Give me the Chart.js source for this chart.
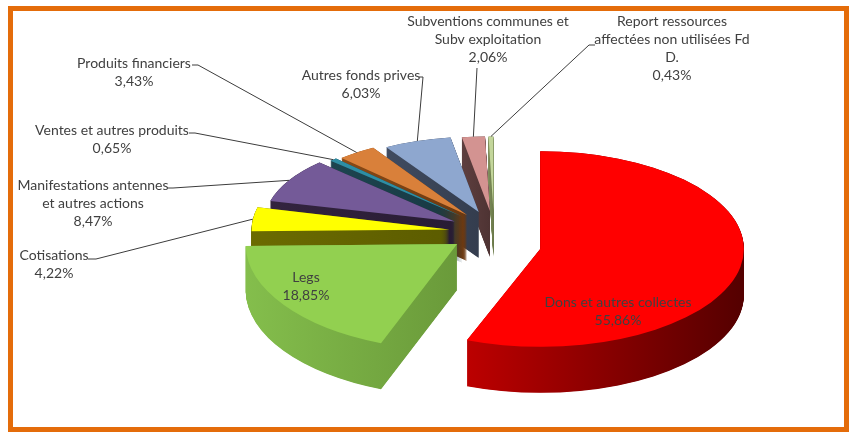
<!DOCTYPE html>
<html>
<head>
<meta charset="utf-8">
<script src="https://cdn.jsdelivr.net/npm/chart.js@4.4.0/dist/chart.umd.min.js"></script>
<style>
  html, body { margin: 0; padding: 0; background: #fff; }
</style>
</head>
<body>
<canvas id="myChart" width="855" height="436"></canvas>
<script>
// data
const categories = [
  'Dons et autres collectes', 'Legs', 'Cotisations',
  'Manifestations antennes et autres actions', 'Ventes et autres produits',
  'Produits financiers', 'Autres fonds prives',
  'Subventions communes et Subv exploitation',
  'Report ressources affectées non utilisées Fd D.'
];
const shares = [55.86, 18.85, 4.22, 8.47, 0.65, 3.43, 6.03, 2.06, 0.43];

// label text as it is wrapped on the picture
const labelLines = [
  ['Dons et autres collectes'],
  ['Legs'],
  ['Cotisations'],
  ['Manifestations antennes', 'et autres actions'],
  ['Ventes et autres produits'],
  ['Produits financiers'],
  ['Autres fonds prives'],
  ['Subventions communes et', 'Subv exploitation'],
  ['Report ressources', 'affectées non utilisées Fd', 'D.']
];

// styles
const topColors  = ['#ff0000', '#92d050', '#ffff00', '#745a98', '#2e8ea4', '#d9803a', '#8ea7cf', '#d39391', '#c3d69b'];
const sideLight  = ['#bc0000', '#84be4c', '#6b6b00', '#33243f', '#1d4550', '#8a4a16', '#404b60', '#5e3f3f', '#7d8c5a'];
const sideDark   = ['#540000', '#6a9a3a', '#5c5c00', '#281c34', '#173842', '#6a3810', '#343d4e', '#4e3333', '#6b7a4a'];
const explode    = [47, 45, 45, 45, 45, 45, 45, 45, 45];
const lift       = [13, 0, 0, 0, 0, 0, 0, 0, 0];

// 3d look
const pieY = 232;      // screen y of the pie centre
const tilt = 0.47;     // vertical squash of the disc
const depth = 46;      // thickness in px
const persp = 0.1;     // back slices a bit smaller
const perspV = 0.12;   // and flatter

// label layout: centre of first line, and leader start [x, y, tick]
const labelAt = [[618, 302], [306, 277], [54, 255], [93, 185], [112, 130], [134, 63], [361, 75], [488, 21], [672, 21]];
const leaderFrom = [null, null, [88, 259, 8], [168, 188, 5], [189, 133, 6], [192, 65, 6], [419, 77, 4], [477, 68, 0], [595, 45, -6]];
const lineH = 18;

const pct = v => v.toFixed(2).replace('.', ',') + '%';

const pie3d = {
  id: 'pie3d',
  beforeDatasetsDraw(chart) {
    const {ctx} = chart;
    const arcs = chart.getDatasetMeta(0).data;
    const cy = arcs[0].y;
    const toScreenY = y => pieY + (y - cy) * tilt;

    const parts = arcs.map((a, i) => {
      const mid = (a.startAngle + a.endAngle) / 2;
      return {
        a, i, mid,
        s: 1 + persp * Math.sin(mid),
        v: 1 + perspV * Math.sin(mid),
        ax: a.x + Math.cos(mid) * explode[i],
        ay: a.y + Math.sin(mid) * explode[i] + lift[i] / tilt
      };
    });
    const place = p => {
      ctx.translate(p.ax, p.ay);
      ctx.scale(p.s, p.s * p.v);
      ctx.translate(-p.a.x, -p.a.y);
    };
    // where the leader lines meet the slices
    chart.$tips = parts.map(p => ({
      x: p.ax + p.s * Math.cos(p.mid) * p.a.outerRadius,
      y: toScreenY(p.ay + p.s * p.v * Math.sin(p.mid) * p.a.outerRadius)
    }));

    ctx.save();
    ctx.translate(0, pieY);
    ctx.scale(1, tilt);
    ctx.translate(0, -cy);

    // side walls, back to front
    const order = parts.slice().sort((p, q) =>
      (p.ay + Math.sin(p.mid) * p.a.outerRadius * 0.5) - (q.ay + Math.sin(q.mid) * q.a.outerRadius * 0.5));
    const dU = depth / tilt;
    order.forEach(p => {
      const a = p.a, R = a.outerRadius;
      let xmin = a.x, xmax = a.x;
      for (let k = 0; k <= 40; k++) {
        const ang = a.startAngle + (a.endAngle - a.startAngle) * k / 40;
        xmin = Math.min(xmin, a.x + Math.cos(ang) * R);
        xmax = Math.max(xmax, a.x + Math.cos(ang) * R);
      }
      for (let k = dU; k >= 0; k -= 0.5 / tilt) {
        ctx.save();
        ctx.translate(0, k);
        place(p);
        const g = ctx.createLinearGradient(xmin, 0, xmax + 0.1, 0);
        g.addColorStop(0, sideLight[p.i]);
        g.addColorStop(1, sideDark[p.i]);
        ctx.fillStyle = g;
        ctx.beginPath();
        ctx.moveTo(a.x, a.y);
        ctx.arc(a.x, a.y, R, a.startAngle, a.endAngle);
        ctx.closePath();
        ctx.fill();
        ctx.restore();
      }
    });

    // top faces drawn by the arc elements themselves
    parts.forEach(p => {
      ctx.save();
      place(p);
      p.a.draw(ctx);
      ctx.restore();
    });
    ctx.restore();
    return false;
  }
};

const sliceLabels = {
  id: 'sliceLabels',
  afterDraw(chart) {
    const {ctx} = chart;
    const tips = chart.$tips || [];
    ctx.save();
    ctx.font = '14px Lato';
    ctx.fillStyle = '#404040';
    ctx.strokeStyle = '#3c3c3c';
    ctx.lineWidth = 1;
    ctx.textAlign = 'center';
    ctx.textBaseline = 'middle';
    labelLines.forEach((lines, i) => {
      const all = lines.concat([pct(shares[i])]);
      const [x, y] = labelAt[i];
      all.forEach((t, k) => ctx.fillText(t, x, y + k * lineH));
      const from = leaderFrom[i];
      if (from && tips[i]) {
        ctx.beginPath();
        ctx.moveTo(from[0], from[1]);
        ctx.lineTo(from[0] + from[2], from[1]);
        ctx.lineTo(tips[i].x, tips[i].y);
        ctx.stroke();
      }
    });
    // orange frame
    ctx.strokeStyle = '#e46c0a';
    ctx.lineWidth = 5;
    ctx.strokeRect(10.5, 8.5, 836, 421);
    ctx.restore();
  }
};

const data = {
  labels: categories,
  datasets: [{
    data: shares,
    backgroundColor: topColors,
    borderWidth: 0,
    offset: 0
  }]
};

const config = {
  type: 'pie',
  data,
  options: {
    responsive: false,
    animation: false,
    events: [],
    radius: 200,
    layout: { padding: { left: 133, right: 0, top: 0, bottom: 0 } },
    plugins: {
      legend: { display: false },
      tooltip: { enabled: false }
    }
  },
  plugins: [pie3d, sliceLabels]
};

const myChart = new Chart(document.getElementById('myChart'), config);
</script>
</body>
</html>
